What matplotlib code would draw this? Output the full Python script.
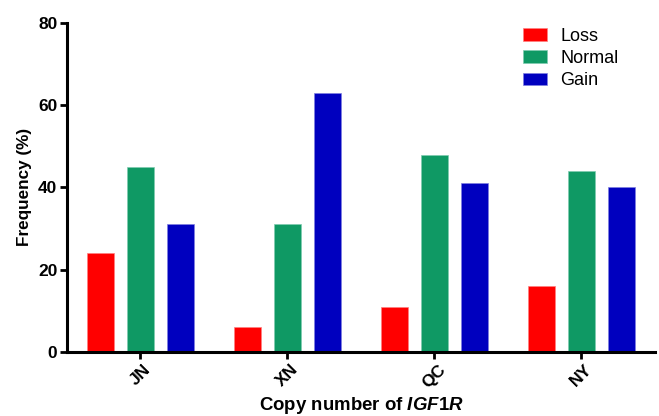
import numpy as np
import matplotlib.pyplot as plt

# data
regions = ['JN', 'XN', 'QC', 'NY']
loss = [24, 6, 11, 16]
normal = [45, 31, 48, 44]
gain = [31, 63, 41, 40]
yticks = [0, 20, 40, 60, 80]

plt.rcParams['font.family'] = 'Liberation Sans'
plt.rcParams['mathtext.fontset'] = 'custom'
plt.rcParams['mathtext.it'] = 'Liberation Sans:italic:bold'
plt.rcParams['mathtext.rm'] = 'Liberation Sans:bold'

fig = plt.figure(figsize=(6.59, 4.16), dpi=100)
ax = fig.add_axes([0.1017, 0.154, 0.892, 0.791])

x = np.arange(len(regions))
w = 0.182
off = 0.273
ax.bar(x - off, loss, w, color='#FF0000', edgecolor='#FF8080', linewidth=0.5, label='Loss')
ax.bar(x, normal, w, color='#0F9964', edgecolor='#7FCCB0', linewidth=0.5, label='Normal')
ax.bar(x + off, gain, w, color='#0000BF', edgecolor='#8080E0', linewidth=0.5, label='Gain')

ax.set_xlim(-0.5, 3.5)
ax.set_ylim(0, 80)
ax.set_yticks(yticks)
ax.set_xticks(x)
ax.set_xticklabels(regions, rotation=45, ha='center', fontweight='bold', fontsize=12.5)
for lab in ax.get_yticklabels():
    lab.set_fontweight('bold')
    lab.set_fontsize(12.5)

for s in ['top', 'right']:
    ax.spines[s].set_visible(False)
for s in ['left', 'bottom']:
    ax.spines[s].set_linewidth(2.2)
ax.tick_params(axis='both', direction='out', length=5, width=2, pad=2, colors='black')

ax.set_ylabel('Frequency (%)', fontsize=12.3, fontweight='bold', labelpad=4)
ax.set_xlabel(r'Copy number of $\mathit{IGF1R}$', fontsize=13.4, fontweight='bold', labelpad=3)

ax.legend(loc='upper right', bbox_to_anchor=(0.966, 1.035), frameon=False, fontsize=13,
          handlelength=1.35, handleheight=0.7, handletextpad=0.72, labelspacing=0.3)

fig.savefig('out.png', dpi=100)
